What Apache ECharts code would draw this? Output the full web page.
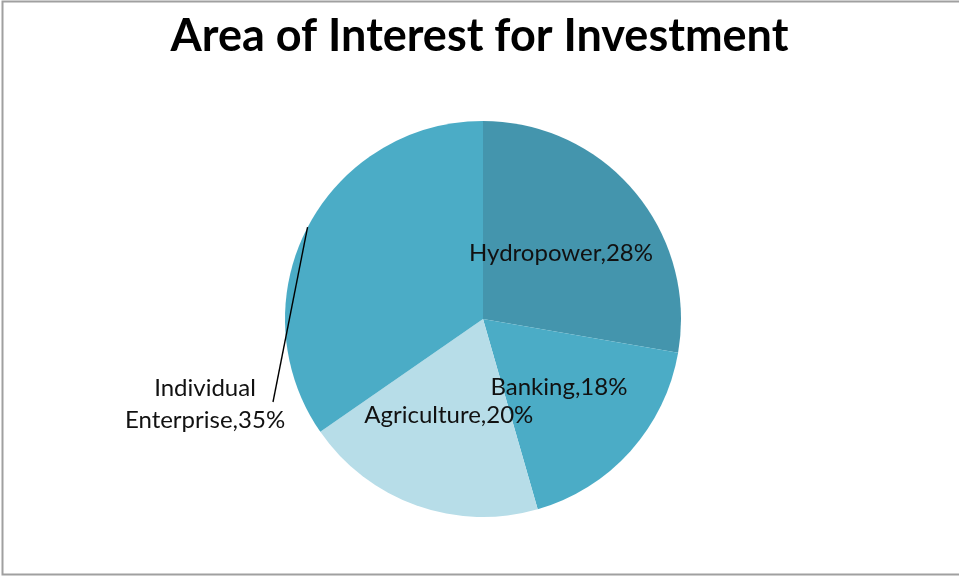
<!DOCTYPE html>
<html>
<head>
<meta charset="utf-8">
<script src="https://cdn.jsdelivr.net/npm/echarts@6/dist/echarts.min.js"></script>
<style>
  html, body { margin: 0; padding: 0; background: #fff; }
  #chart { width: 959px; height: 577px; }
</style>
</head>
<body>
<div id="chart"></div>
<script>
// Survey results: share of respondents by preferred investment area
const categories = ['Hydropower', 'Banking', 'Agriculture', 'Individual\nEnterprise'];
const shares = [28, 18, 20, 35];
const sliceColors = ['#4495AD', '#4BACC6', '#B7DDE8', '#4BACC6'];
const outsideLabelIndex = 3;
const chartTitle = 'Area of Interest for Investment';

const FONT = 'Lato, "Open Sans", sans-serif';
const CENTER = [483, 319];
const RADIUS = 198;

const chart = echarts.init(document.getElementById('chart'), null, { renderer: 'canvas' });

const labelFormatter = (p) => p.name + ',' + Math.round(p.value) + '%';

// Filled slices with the labels that sit inside them
const sliceData = categories.map((name, i) => ({
  name: name,
  value: shares[i],
  itemStyle: { color: sliceColors[i] },
  label: { show: i !== outsideLabelIndex }
}));

// Transparent overlay pie on top: carries the outside label and its leader line,
// so the line is drawn over the filled slices
const overlayData = categories.map((name, i) => ({
  name: name,
  value: shares[i],
  itemStyle: { color: 'rgba(0,0,0,0)' },
  label: { show: i === outsideLabelIndex },
  labelLine: { show: i === outsideLabelIndex }
}));

chart.setOption({
  backgroundColor: '#fff',
  title: {
    text: chartTitle,
    left: 'center',
    top: 9,
    textStyle: { fontFamily: FONT, fontSize: 45, fontWeight: 'bold', color: '#000' }
  },
  graphic: [{
    type: 'rect',
    silent: true,
    shape: { x: 2.5, y: 1.5, width: 970, height: 573 },
    style: { fill: 'none', stroke: '#A0A0A0', lineWidth: 2 }
  }],
  series: [{
    type: 'pie',
    z: 2,
    center: CENTER,
    radius: RADIUS,
    startAngle: 90,
    clockwise: true,
    animation: false,
    silent: true,
    data: sliceData,
    label: {
      position: 'inside',
      formatter: labelFormatter,
      fontFamily: FONT,
      fontSize: 24,
      color: '#111'
    },
    labelLine: { show: false }
  }, {
    type: 'pie',
    z: 5,
    center: CENTER,
    radius: RADIUS,
    startAngle: 90,
    clockwise: true,
    animation: false,
    silent: true,
    data: overlayData,
    label: {
      position: 'outside',
      formatter: labelFormatter,
      fontFamily: FONT,
      fontSize: 24,
      lineHeight: 32,
      align: 'center',
      color: '#111'
    },
    labelLine: { length: 10, length2: 10, lineStyle: { color: '#000', width: 1.4 } },
    labelLayout: function (params) {
      if (params.dataIndex !== outsideLabelIndex) return {};
      const start = params.labelLinePoints ? params.labelLinePoints[0] : null;
      const out = { x: 205, y: 404, align: 'center', verticalAlign: 'middle' };
      if (start) {
        out.labelLinePoints = [start, [273, 402], [273, 402]];
      }
      return out;
    }
  }]
});
</script>
</body>
</html>
